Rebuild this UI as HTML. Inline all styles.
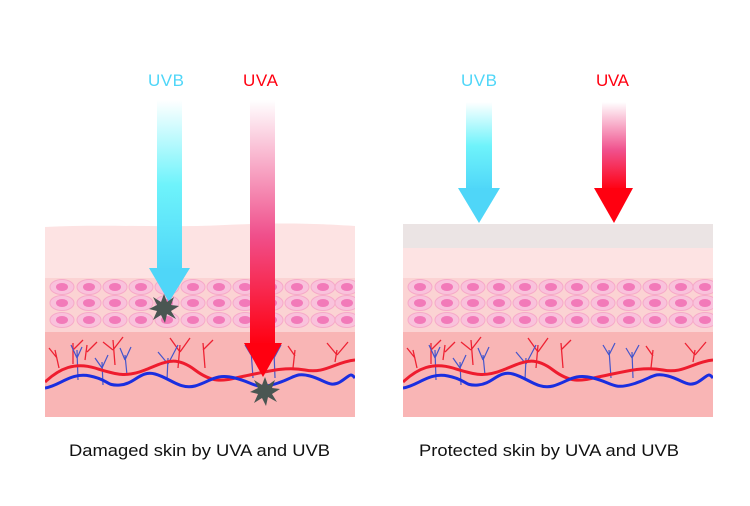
<!DOCTYPE html>
<html><head><meta charset="utf-8"><style>
body{margin:0;background:#fff;width:750px;height:506px;overflow:hidden}
svg{display:block}
text{font-family:"Liberation Sans","DejaVu Sans",sans-serif}
</style></head><body>
<svg width="750" height="506" viewBox="0 0 750 506">
<defs>
<clipPath id="pc"><rect x="0" y="200" width="310" height="217"/></clipPath>
<linearGradient id="gb" x1="0" y1="0" x2="0" y2="1">
<stop offset="0" stop-color="#fff"/><stop offset="0.5" stop-color="#6ef3fb"/><stop offset="1" stop-color="#4fd6f8"/></linearGradient>
<linearGradient id="gr" x1="0" y1="0" x2="0" y2="1">
<stop offset="0" stop-color="#fff"/><stop offset="0.55" stop-color="#f0508c"/><stop offset="1" stop-color="#ff0010"/></linearGradient>
<g id="cell"><ellipse cx="0" cy="0" rx="12" ry="7.5" fill="#f9c2dc" stroke="#f6a9c8" stroke-width="1"/><ellipse cx="0" cy="0" rx="6" ry="4" fill="#f27ab9"/></g>
<g id="row">
<use href="#cell" x="17"/><use href="#cell" x="44"/><use href="#cell" x="70"/><use href="#cell" x="96"/><use href="#cell" x="122"/><use href="#cell" x="148"/><use href="#cell" x="174"/><use href="#cell" x="200"/><use href="#cell" x="226"/><use href="#cell" x="252"/><use href="#cell" x="278"/><use href="#cell" x="302"/>
</g>
<g id="lower">
<rect x="0" y="278" width="310" height="56" fill="#fbd3d3"/>
<use href="#row" y="287"/><use href="#row" y="303"/><use href="#row" y="320"/>
<rect x="0" y="332" width="310" height="85" fill="#f9b5b5"/>
<g fill="none" stroke="#ee2233" stroke-width="1.3">
<path d="M14,368 L10,350 M12,358 L4,348 M28,364 L28,343 M28,350 L38,340 M40,360 L42,345 M42,352 L52,342 M70,365 L68,340 M68,350 L58,342 M68,350 L78,337 M133,368 L135,345 M135,352 L125,338 M135,352 L145,338 M160,368 L158,343 M158,350 L168,340 M248,368 L250,350 M250,356 L243,346 M290,362 L292,350 M292,355 L282,343 M292,355 L303,342"/>
</g>
<g fill="none" stroke="#4455cc" stroke-width="1.2">
<path d="M33,380 L32,350 M32,358 L26,345 M32,358 L37,347 M58,385 L57,362 M57,368 L50,358 M57,368 L63,355 M82,375 L80,355 M80,360 L75,348 M80,360 L86,347 M122,380 L123,358 M123,364 L113,352 M123,364 L133,345 M208,378 L206,350 M206,355 L200,345 M206,355 L212,343 M230,378 L229,352 M229,358 L223,348 M229,358 L236,345"/>
</g>
<path d="M0,382 C15,368 30,362 50,368 S80,378 100,370 S130,355 150,370 S180,380 200,376 S240,366 260,370 S290,362 310,360" fill="none" stroke="#ee1c2e" stroke-width="3"/>
<path d="M0,388 C15,386 25,372 45,376 S60,386 75,385 S95,370 110,374 S135,390 150,386 S170,373 190,378 S210,390 230,384 S250,372 265,376 S285,388 295,382 S305,372 310,378" fill="none" stroke="#1a2ee0" stroke-width="3"/>
</g>
<polygon id="star" points="0,-14 3,-6 10,-11 7,-3 15,-2 7,3 12,11 3,6 1,15 -3,7 -11,12 -7,3 -15,1 -7,-3 -11,-11 -3,-6" fill="#4a5652"/>
</defs>

<!-- left panel -->
<g transform="translate(45,0)">
<g clip-path="url(#pc)">
<path d="M0,227 C60,224 120,228 180,225 S280,224 310,226 L310,280 L0,280 Z" fill="#fde3e3"/>
<use href="#lower"/>
</g>
</g>
<!-- right panel -->
<g transform="translate(403,0)">
<g clip-path="url(#pc)">
<rect x="0" y="224" width="310" height="24" fill="#ebe4e4"/>
<rect x="0" y="248" width="310" height="32" fill="#fde3e3"/>
<use href="#lower"/>
</g>
</g>

<!-- left arrows -->
<rect x="157" y="100" width="25" height="170" fill="url(#gb)"/>
<polygon points="149,268 190,268 169,302" fill="#4fd6f8"/>
<use href="#star" x="164" y="308"/>
<rect x="250" y="100" width="25" height="245" fill="url(#gr)"/>
<polygon points="244,343 282,343 263,377" fill="#ff0010"/>
<use href="#star" x="265" y="391"/>

<!-- right arrows -->
<rect x="466" y="102" width="26" height="88" fill="url(#gb)"/>
<polygon points="458,188 500,188 479,223" fill="#4fd6f8"/>
<rect x="602" y="102" width="24" height="88" fill="url(#gr)"/>
<polygon points="594,188 633,188 614,223" fill="#ff0010"/>

<g font-size="17">
<text x="148" y="86" fill="#4fd6f8" textLength="36">UVB</text>
<text x="243" y="86" fill="#ff0010" textLength="35">UVA</text>
<text x="461" y="86" fill="#4fd6f8" textLength="36">UVB</text>
<text x="596" y="86" fill="#ff0010" textLength="33">UVA</text>
</g>
<g font-size="17" fill="#111">
<text x="69" y="456" textLength="261" lengthAdjust="spacingAndGlyphs">Damaged skin by UVA and UVB</text>
<text x="419" y="456" textLength="260" lengthAdjust="spacingAndGlyphs">Protected skin by UVA and UVB</text>
</g>
</svg>
</body></html>
